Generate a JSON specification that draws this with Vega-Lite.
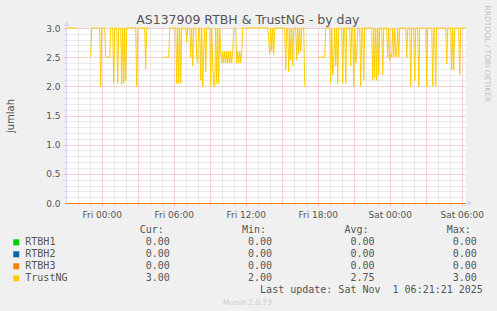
{
  "$schema": "https://vega.github.io/schema/vega-lite/v6.json",
  "background": "#f0f0f0",
  "padding": {"left": 5, "top": 5, "right": 30, "bottom": 30},
  "bounds": "flush",
  "spacing": 30,
  "title": {"text": "AS137909 RTBH & TrustNG - by day", "font": "DejaVu Sans", "fontSize": 12.5, "fontWeight": "normal", "color": "#555555", "anchor": "middle", "frame": "bounds", "baseline": "alphabetic", "offset": -31.5},
  "config": {"font": "DejaVu Sans", "view": {"stroke": null}},
  "datasets": {
    "rtbh": [
      {"s": "RTBH1", "t": "2025-10-30T21:05Z", "v": 0}, {"s": "RTBH1", "t": "2025-11-01T06:20Z", "v": 0},
      {"s": "RTBH2", "t": "2025-10-30T21:05Z", "v": 0}, {"s": "RTBH2", "t": "2025-11-01T06:20Z", "v": 0},
      {"s": "RTBH3", "t": "2025-10-30T21:05Z", "v": 0}, {"s": "RTBH3", "t": "2025-11-01T06:20Z", "v": 0}
    ],
    "trust": [
      {"t": "2025-10-30T21:05Z", "v": 3}, {"t": "2025-10-30T21:55Z", "v": 3}, {"t": "2025-10-30T22:30Z", "v": null},
      {"t": "2025-10-30T23:05Z", "v": 2.5}, {"t": "2025-10-30T23:10Z", "v": 3}, {"t": "2025-10-30T23:50Z", "v": 3},
      {"t": "2025-10-30T23:55Z", "v": 2.0}, {"t": "2025-10-31T00:00Z", "v": 3}, {"t": "2025-10-31T00:15Z", "v": 3},
      {"t": "2025-10-31T00:20Z", "v": 2.5}, {"t": "2025-10-31T00:40Z", "v": 2.5}, {"t": "2025-10-31T00:45Z", "v": 3},
      {"t": "2025-10-31T00:55Z", "v": 3}, {"t": "2025-10-31T01:00Z", "v": 2.05}, {"t": "2025-10-31T01:05Z", "v": 3},
      {"t": "2025-10-31T01:15Z", "v": 3}, {"t": "2025-10-31T01:20Z", "v": 2.05}, {"t": "2025-10-31T01:25Z", "v": 3},
      {"t": "2025-10-31T01:35Z", "v": 3}, {"t": "2025-10-31T01:40Z", "v": 2.03}, {"t": "2025-10-31T01:45Z", "v": 3},
      {"t": "2025-10-31T01:50Z", "v": 2.05}, {"t": "2025-10-31T01:55Z", "v": 3}, {"t": "2025-10-31T02:00Z", "v": 2.1},
      {"t": "2025-10-31T02:05Z", "v": 3}, {"t": "2025-10-31T02:50Z", "v": 3}, {"t": "2025-10-31T02:55Z", "v": 2.0},
      {"t": "2025-10-31T03:00Z", "v": 3}, {"t": "2025-10-31T03:35Z", "v": 3}, {"t": "2025-10-31T03:40Z", "v": 2.3},
      {"t": "2025-10-31T03:45Z", "v": 3}, {"t": "2025-10-31T03:55Z", "v": 3}, {"t": "2025-10-31T04:25Z", "v": null},
      {"t": "2025-10-31T05:10Z", "v": 2.5}, {"t": "2025-10-31T05:35Z", "v": 2.5}, {"t": "2025-10-31T05:40Z", "v": 3},
      {"t": "2025-10-31T06:10Z", "v": 3}, {"t": "2025-10-31T06:15Z", "v": 2.05}, {"t": "2025-10-31T06:20Z", "v": 3},
      {"t": "2025-10-31T06:25Z", "v": 2.05}, {"t": "2025-10-31T06:30Z", "v": 3}, {"t": "2025-10-31T06:35Z", "v": 2.05},
      {"t": "2025-10-31T06:40Z", "v": 3}, {"t": "2025-10-31T07:00Z", "v": 3}, {"t": "2025-10-31T07:05Z", "v": 2.75},
      {"t": "2025-10-31T07:10Z", "v": 3}, {"t": "2025-10-31T07:20Z", "v": 3}, {"t": "2025-10-31T07:25Z", "v": 2.5},
      {"t": "2025-10-31T07:30Z", "v": 3}, {"t": "2025-10-31T07:35Z", "v": 2.35}, {"t": "2025-10-31T07:40Z", "v": 3},
      {"t": "2025-10-31T07:50Z", "v": 3}, {"t": "2025-10-31T07:55Z", "v": 2.5}, {"t": "2025-10-31T08:00Z", "v": 2.4},
      {"t": "2025-10-31T08:05Z", "v": 3}, {"t": "2025-10-31T08:10Z", "v": 3}, {"t": "2025-10-31T08:15Z", "v": 2.1},
      {"t": "2025-10-31T08:20Z", "v": 3}, {"t": "2025-10-31T08:25Z", "v": 2.0}, {"t": "2025-10-31T08:30Z", "v": 2.6},
      {"t": "2025-10-31T08:35Z", "v": 3}, {"t": "2025-10-31T08:40Z", "v": 2.25}, {"t": "2025-10-31T08:45Z", "v": 3},
      {"t": "2025-10-31T09:00Z", "v": 3}, {"t": "2025-10-31T09:05Z", "v": 2.0}, {"t": "2025-10-31T09:10Z", "v": 3},
      {"t": "2025-10-31T09:15Z", "v": 2.4}, {"t": "2025-10-31T09:20Z", "v": 2.0}, {"t": "2025-10-31T09:25Z", "v": 2.0},
      {"t": "2025-10-31T09:30Z", "v": 3}, {"t": "2025-10-31T09:35Z", "v": 2.05}, {"t": "2025-10-31T09:40Z", "v": 3},
      {"t": "2025-10-31T09:45Z", "v": 2.05}, {"t": "2025-10-31T09:50Z", "v": 3}, {"t": "2025-10-31T09:55Z", "v": 2.6},
      {"t": "2025-10-31T10:00Z", "v": 2.4}, {"t": "2025-10-31T10:05Z", "v": 2.6}, {"t": "2025-10-31T10:10Z", "v": 2.4},
      {"t": "2025-10-31T10:15Z", "v": 2.6}, {"t": "2025-10-31T10:20Z", "v": 2.4}, {"t": "2025-10-31T10:25Z", "v": 2.6},
      {"t": "2025-10-31T10:30Z", "v": 2.4}, {"t": "2025-10-31T10:35Z", "v": 2.6}, {"t": "2025-10-31T10:40Z", "v": 2.4},
      {"t": "2025-10-31T10:45Z", "v": 2.6}, {"t": "2025-10-31T10:50Z", "v": 2.4}, {"t": "2025-10-31T10:55Z", "v": 2.6},
      {"t": "2025-10-31T11:00Z", "v": 3}, {"t": "2025-10-31T11:10Z", "v": 3}, {"t": "2025-10-31T11:15Z", "v": 2.4},
      {"t": "2025-10-31T11:20Z", "v": 2.6}, {"t": "2025-10-31T11:25Z", "v": 2.4}, {"t": "2025-10-31T11:30Z", "v": 2.6},
      {"t": "2025-10-31T11:35Z", "v": 2.4}, {"t": "2025-10-31T11:40Z", "v": 2.6}, {"t": "2025-10-31T11:45Z", "v": 3},
      {"t": "2025-10-31T13:50Z", "v": 3}, {"t": "2025-10-31T14:00Z", "v": 2.55}, {"t": "2025-10-31T14:05Z", "v": 3},
      {"t": "2025-10-31T14:10Z", "v": 2.6}, {"t": "2025-10-31T14:15Z", "v": 3}, {"t": "2025-10-31T14:20Z", "v": 2.55},
      {"t": "2025-10-31T14:25Z", "v": 3}, {"t": "2025-10-31T15:15Z", "v": 3}, {"t": "2025-10-31T15:20Z", "v": 2.28},
      {"t": "2025-10-31T15:25Z", "v": 3}, {"t": "2025-10-31T15:30Z", "v": 3}, {"t": "2025-10-31T15:35Z", "v": 2.25},
      {"t": "2025-10-31T15:40Z", "v": 3}, {"t": "2025-10-31T15:45Z", "v": 2.45}, {"t": "2025-10-31T15:50Z", "v": 3},
      {"t": "2025-10-31T15:55Z", "v": 2.35}, {"t": "2025-10-31T16:00Z", "v": 3}, {"t": "2025-10-31T16:10Z", "v": 3},
      {"t": "2025-10-31T16:15Z", "v": 2.45}, {"t": "2025-10-31T16:20Z", "v": 3}, {"t": "2025-10-31T16:25Z", "v": 2.55},
      {"t": "2025-10-31T16:30Z", "v": 3}, {"t": "2025-10-31T16:35Z", "v": 2.6}, {"t": "2025-10-31T16:40Z", "v": 3},
      {"t": "2025-10-31T16:50Z", "v": 3}, {"t": "2025-10-31T16:55Z", "v": 2.0}, {"t": "2025-10-31T17:25Z", "v": null},
      {"t": "2025-10-31T18:00Z", "v": 2.5}, {"t": "2025-10-31T18:35Z", "v": 2.5}, {"t": "2025-10-31T18:40Z", "v": 3},
      {"t": "2025-10-31T19:00Z", "v": 3}, {"t": "2025-10-31T19:05Z", "v": 2.05}, {"t": "2025-10-31T19:10Z", "v": 3},
      {"t": "2025-10-31T19:15Z", "v": 2.2}, {"t": "2025-10-31T19:20Z", "v": 2.4}, {"t": "2025-10-31T19:25Z", "v": 3},
      {"t": "2025-10-31T19:30Z", "v": 2.35}, {"t": "2025-10-31T19:35Z", "v": 3}, {"t": "2025-10-31T19:40Z", "v": 2.05},
      {"t": "2025-10-31T19:45Z", "v": 3}, {"t": "2025-10-31T20:00Z", "v": 3}, {"t": "2025-10-31T20:05Z", "v": 2.05},
      {"t": "2025-10-31T20:10Z", "v": 3}, {"t": "2025-10-31T20:15Z", "v": 3}, {"t": "2025-10-31T20:20Z", "v": 2.05},
      {"t": "2025-10-31T20:25Z", "v": 3}, {"t": "2025-10-31T20:40Z", "v": 3}, {"t": "2025-10-31T20:45Z", "v": 2.35},
      {"t": "2025-10-31T20:50Z", "v": 3}, {"t": "2025-10-31T20:55Z", "v": 3}, {"t": "2025-10-31T21:00Z", "v": 2.0},
      {"t": "2025-10-31T21:05Z", "v": 3}, {"t": "2025-10-31T21:10Z", "v": 2.4}, {"t": "2025-10-31T21:15Z", "v": 2.5},
      {"t": "2025-10-31T21:20Z", "v": 3}, {"t": "2025-10-31T21:30Z", "v": 3}, {"t": "2025-10-31T21:35Z", "v": 2.0},
      {"t": "2025-10-31T21:40Z", "v": 3}, {"t": "2025-10-31T21:45Z", "v": 3}, {"t": "2025-10-31T21:50Z", "v": 2.1},
      {"t": "2025-10-31T21:55Z", "v": 3}, {"t": "2025-10-31T22:30Z", "v": 3}, {"t": "2025-10-31T22:35Z", "v": 2.1},
      {"t": "2025-10-31T22:40Z", "v": 3}, {"t": "2025-10-31T22:45Z", "v": 2.15}, {"t": "2025-10-31T22:50Z", "v": 3},
      {"t": "2025-10-31T22:55Z", "v": 2.1}, {"t": "2025-10-31T23:00Z", "v": 3}, {"t": "2025-10-31T23:05Z", "v": 2.2},
      {"t": "2025-10-31T23:10Z", "v": 3}, {"t": "2025-10-31T23:20Z", "v": 3}, {"t": "2025-10-31T23:25Z", "v": 2.2},
      {"t": "2025-10-31T23:30Z", "v": 3}, {"t": "2025-10-31T23:45Z", "v": 3}, {"t": "2025-10-31T23:50Z", "v": 2.5},
      {"t": "2025-10-31T23:55Z", "v": 3}, {"t": "2025-11-01T00:00Z", "v": 2.45}, {"t": "2025-11-01T00:05Z", "v": 2.55},
      {"t": "2025-11-01T00:10Z", "v": 2.5}, {"t": "2025-11-01T00:15Z", "v": 3}, {"t": "2025-11-01T00:20Z", "v": 2.5},
      {"t": "2025-11-01T00:25Z", "v": 3}, {"t": "2025-11-01T00:30Z", "v": 2.5}, {"t": "2025-11-01T00:35Z", "v": 2.55},
      {"t": "2025-11-01T00:40Z", "v": 3}, {"t": "2025-11-01T00:45Z", "v": 2.5}, {"t": "2025-11-01T00:50Z", "v": 3},
      {"t": "2025-11-01T01:20Z", "v": 3}, {"t": "2025-11-01T01:25Z", "v": 2.5}, {"t": "2025-11-01T01:30Z", "v": 3},
      {"t": "2025-11-01T01:40Z", "v": 3}, {"t": "2025-11-01T01:45Z", "v": 2.0}, {"t": "2025-11-01T01:50Z", "v": 3},
      {"t": "2025-11-01T02:00Z", "v": 3}, {"t": "2025-11-01T02:05Z", "v": 2.1}, {"t": "2025-11-01T02:10Z", "v": 3},
      {"t": "2025-11-01T02:20Z", "v": 3}, {"t": "2025-11-01T02:25Z", "v": 2.0}, {"t": "2025-11-01T02:30Z", "v": 3},
      {"t": "2025-11-01T03:00Z", "v": 3}, {"t": "2025-11-01T03:05Z", "v": 2.0}, {"t": "2025-11-01T03:10Z", "v": 3},
      {"t": "2025-11-01T03:30Z", "v": 3}, {"t": "2025-11-01T03:35Z", "v": 2.0}, {"t": "2025-11-01T03:40Z", "v": 3},
      {"t": "2025-11-01T03:45Z", "v": 3}, {"t": "2025-11-01T03:50Z", "v": 2.0}, {"t": "2025-11-01T03:55Z", "v": 3},
      {"t": "2025-11-01T04:40Z", "v": 3}, {"t": "2025-11-01T04:45Z", "v": 2.38}, {"t": "2025-11-01T04:50Z", "v": 3},
      {"t": "2025-11-01T05:05Z", "v": 3}, {"t": "2025-11-01T05:10Z", "v": 2.28}, {"t": "2025-11-01T05:15Z", "v": 3},
      {"t": "2025-11-01T05:20Z", "v": 2.28}, {"t": "2025-11-01T05:25Z", "v": 3}, {"t": "2025-11-01T05:45Z", "v": 3},
      {"t": "2025-11-01T05:50Z", "v": 2.2}, {"t": "2025-11-01T05:55Z", "v": 3}, {"t": "2025-11-01T06:20Z", "v": 3}
    ],
    "table": [
      {"row": "h", "text": "Cur:\u00a0\u00a0\u00a0\u00a0\u00a0\u00a0\u00a0\u00a0\u00a0\u00a0\u00a0\u00a0\u00a0Min:\u00a0\u00a0\u00a0\u00a0\u00a0\u00a0\u00a0\u00a0\u00a0\u00a0\u00a0\u00a0\u00a0Avg:\u00a0\u00a0\u00a0\u00a0\u00a0\u00a0\u00a0\u00a0\u00a0\u00a0\u00a0\u00a0\u00a0Max:"},
      {"row": "RTBH1", "s": "RTBH1", "text": "RTBH1\u00a0\u00a0\u00a0\u00a0\u00a0\u00a0\u00a0\u00a0\u00a0\u00a0\u00a0\u00a0\u00a0\u00a0\u00a00.00\u00a0\u00a0\u00a0\u00a0\u00a0\u00a0\u00a0\u00a0\u00a0\u00a0\u00a0\u00a0\u00a00.00\u00a0\u00a0\u00a0\u00a0\u00a0\u00a0\u00a0\u00a0\u00a0\u00a0\u00a0\u00a0\u00a00.00\u00a0\u00a0\u00a0\u00a0\u00a0\u00a0\u00a0\u00a0\u00a0\u00a0\u00a0\u00a0\u00a00.00"},
      {"row": "RTBH2", "s": "RTBH2", "text": "RTBH2\u00a0\u00a0\u00a0\u00a0\u00a0\u00a0\u00a0\u00a0\u00a0\u00a0\u00a0\u00a0\u00a0\u00a0\u00a00.00\u00a0\u00a0\u00a0\u00a0\u00a0\u00a0\u00a0\u00a0\u00a0\u00a0\u00a0\u00a0\u00a00.00\u00a0\u00a0\u00a0\u00a0\u00a0\u00a0\u00a0\u00a0\u00a0\u00a0\u00a0\u00a0\u00a00.00\u00a0\u00a0\u00a0\u00a0\u00a0\u00a0\u00a0\u00a0\u00a0\u00a0\u00a0\u00a0\u00a00.00"},
      {"row": "RTBH3", "s": "RTBH3", "text": "RTBH3\u00a0\u00a0\u00a0\u00a0\u00a0\u00a0\u00a0\u00a0\u00a0\u00a0\u00a0\u00a0\u00a0\u00a0\u00a00.00\u00a0\u00a0\u00a0\u00a0\u00a0\u00a0\u00a0\u00a0\u00a0\u00a0\u00a0\u00a0\u00a00.00\u00a0\u00a0\u00a0\u00a0\u00a0\u00a0\u00a0\u00a0\u00a0\u00a0\u00a0\u00a0\u00a00.00\u00a0\u00a0\u00a0\u00a0\u00a0\u00a0\u00a0\u00a0\u00a0\u00a0\u00a0\u00a0\u00a00.00"},
      {"row": "TrustNG", "s": "TrustNG", "text": "TrustNG\u00a0\u00a0\u00a0\u00a0\u00a0\u00a0\u00a0\u00a0\u00a0\u00a0\u00a0\u00a0\u00a03.00\u00a0\u00a0\u00a0\u00a0\u00a0\u00a0\u00a0\u00a0\u00a0\u00a0\u00a0\u00a0\u00a02.00\u00a0\u00a0\u00a0\u00a0\u00a0\u00a0\u00a0\u00a0\u00a0\u00a0\u00a0\u00a0\u00a02.75\u00a0\u00a0\u00a0\u00a0\u00a0\u00a0\u00a0\u00a0\u00a0\u00a0\u00a0\u00a0\u00a03.00"},
      {"row": "u", "text": "Last\u00a0update:\u00a0Sat\u00a0Nov\u00a0\u00a01\u00a006:21:21\u00a02025"},
      {"row": "m", "text": "Munin 2.0.73"}
    ]
  },
  "vconcat": [
    {
      "width": 400,
      "height": 175,
      "view": {"fill": "#ffffff", "stroke": null},
      "resolve": {"axis": {"y": "independent"}},
      "layer": [
        {
          "data": {"name": "rtbh"},
          "mark": {"type": "line", "strokeWidth": 1, "yOffset": 0.5},
          "encoding": {
            "x": {"field": "t", "type": "temporal",
                  "scale": {"type": "utc", "domain": [{"year": 2025, "month": 10, "date": 30, "hours": 21, "minutes": 1, "seconds": 21, "utc": true}, {"year": 2025, "month": 11, "date": 1, "hours": 6, "minutes": 21, "seconds": 21, "utc": true}]},
                  "axis": {"title": null, "tickCount": 34, "labelExpr": "utchours(datum.value) % 6 == 0 ? utcFormat(datum.value, '%a %H:%M') : ''", "labelFont": "DejaVu Sans", "labelFontSize": 9, "labelColor": "#555555", "labelPadding": 5, "tickSize": 2, "tickColor": {"condition": {"test": "utchours(datum.value) % 3 == 0", "value": "#e5a5a5"}, "value": "#d2d2d2"}, "grid": true, "gridColor": {"condition": {"test": "utchours(datum.value) % 3 == 0", "value": "#e5a5a5"}, "value": "#d2d2d2"}, "gridDash": [1, 1], "domainColor": "#cfd6f8", "labelOverlap": false, "labelFlush": false, "labelBound": false}},
            "y": {"field": "v", "type": "quantitative", "scale": {"domain": [0, 3], "nice": false, "zero": true},
                  "axis": {"orient": "right", "title": "RRDTOOL / TOBI OETIKER", "labels": false, "ticks": false, "domain": false, "grid": false, "titleAngle": 90, "titleFont": "DejaVu Sans", "titleFontSize": 7.5, "titleFontWeight": "normal", "titleColor": "#c0c0c0", "titleAlign": "left", "titleBaseline": "middle", "titleX": 20.5, "titleY": -23}},
            "color": {"field": "s", "type": "nominal", "scale": {"domain": ["RTBH1", "RTBH2", "RTBH3", "TrustNG"], "range": ["#00cc00", "#0066b3", "#ff8000", "#ffcc00"]}, "legend": null}
          }
        },
        {
          "data": {"name": "trust"},
          "mark": {"type": "line", "color": "#ffcc00", "strokeWidth": 1},
          "encoding": {
            "x": {"field": "t", "type": "temporal"},
            "y": {"field": "v", "type": "quantitative",
                  "axis": {"orient": "left", "title": "jumlah", "titleFont": "DejaVu Sans", "titleFontSize": 10, "titleFontWeight": "normal", "titleColor": "#555555", "titlePadding": 30.5, "values": [0, 0.1, 0.2, 0.3, 0.4, 0.5, 0.6, 0.7, 0.8, 0.9, 1.0, 1.1, 1.2, 1.3, 1.4, 1.5, 1.6, 1.7, 1.8, 1.9, 2.0, 2.1, 2.2, 2.3, 2.4, 2.5, 2.6, 2.7, 2.8, 2.9, 3.0], "labelExpr": "round(datum.value * 10) % 5 == 0 ? format(datum.value, '.1f') : ''", "labelFont": "DejaVu Sans", "labelFontSize": 9, "labelColor": "#555555", "labelPadding": 4, "tickSize": 2, "tickColor": {"condition": {"test": "round(datum.value * 10) % 5 == 0", "value": "#e5a5a5"}, "value": "#d2d2d2"}, "grid": true, "gridColor": {"condition": {"test": "round(datum.value * 10) % 5 == 0", "value": "#e5a5a5"}, "value": "#d2d2d2"}, "gridDash": [1, 1], "domainColor": "#cfd6f8", "labelOverlap": false, "labelFlush": false}}
          }
        },
        {
          "data": {"name": "rtbh"},
          "mark": {"type": "point", "shape": "triangle-up", "filled": true, "size": 30, "color": "#cfd6f8", "opacity": 1},
          "encoding": {
            "x": {"aggregate": "min", "field": "t", "type": "temporal"},
            "y": {"datum": 3.075, "type": "quantitative", "axis": null}
          }
        },
        {
          "data": {"name": "rtbh"},
          "mark": {"type": "point", "shape": "triangle-right", "filled": true, "size": 30, "color": "#cfd6f8", "opacity": 1, "xOffset": 4},
          "encoding": {
            "x": {"aggregate": "max", "field": "t", "type": "temporal"},
            "y": {"datum": 0, "type": "quantitative", "axis": null}
          }
        }
      ]
    },
    {
      "width": 400,
      "height": 72,
      "data": {"name": "table"},
      "layer": [
        {
          "transform": [{"filter": "datum.s != null"}],
          "mark": {"type": "point", "shape": "square", "filled": true, "size": 36, "opacity": 1, "yOffset": -2.7},
          "encoding": {
            "x": {"datum": -1.5, "type": "quantitative", "scale": {"domain": [6.76, 73.2], "nice": false, "zero": false}, "axis": null},
            "y": {"field": "row", "type": "ordinal", "scale": {"type": "point", "domain": ["h", "RTBH1", "RTBH2", "RTBH3", "TrustNG", "u", "m"], "padding": 0}, "axis": null},
            "color": {"field": "s", "type": "nominal", "scale": {"domain": ["RTBH1", "RTBH2", "RTBH3", "TrustNG"], "range": ["#00cc00", "#0066b3", "#ff8000", "#ffcc00"]}, "legend": null}
          }
        },
        {
          "transform": [{"filter": "datum.s != null"}],
          "mark": {"type": "text", "align": "left", "baseline": "alphabetic", "font": "DejaVu Sans Mono", "fontSize": 10, "color": "#555555"},
          "encoding": {
            "x": {"datum": 0, "type": "quantitative"},
            "y": {"field": "row", "type": "ordinal"},
            "text": {"field": "text"}
          }
        },
        {
          "transform": [{"filter": "datum.row == 'h'"}],
          "mark": {"type": "text", "align": "left", "baseline": "alphabetic", "font": "DejaVu Sans Mono", "fontSize": 10, "color": "#555555"},
          "encoding": {
            "x": {"datum": 19, "type": "quantitative"},
            "y": {"field": "row", "type": "ordinal"},
            "text": {"field": "text"}
          }
        },
        {
          "transform": [{"filter": "datum.row == 'u'"}],
          "mark": {"type": "text", "align": "left", "baseline": "alphabetic", "font": "DejaVu Sans Mono", "fontSize": 10, "color": "#555555"},
          "encoding": {
            "x": {"datum": 39, "type": "quantitative"},
            "y": {"field": "row", "type": "ordinal"},
            "text": {"field": "text"}
          }
        },
        {
          "transform": [{"filter": "datum.row == 'm'"}],
          "mark": {"type": "text", "align": "center", "baseline": "alphabetic", "font": "DejaVu Sans", "fontSize": 7.5, "color": "#cccccc"},
          "encoding": {
            "x": {"datum": 36.9, "type": "quantitative"},
            "y": {"field": "row", "type": "ordinal"},
            "text": {"field": "text"}
          }
        }
      ]
    }
  ]
}
